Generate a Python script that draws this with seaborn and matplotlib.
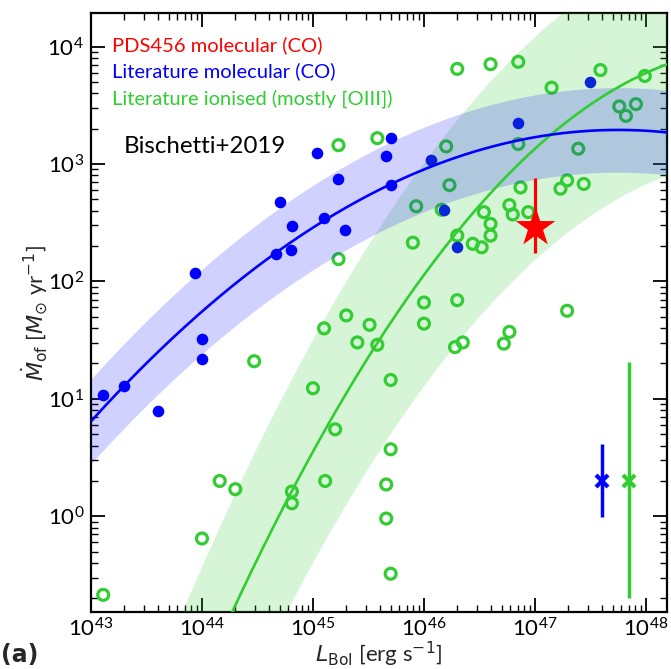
import numpy as np
import pandas as pd
import matplotlib
matplotlib.use("Agg")
import matplotlib.pyplot as plt
import seaborn as sns
from matplotlib.ticker import LogLocator, NullFormatter

# ---------------- data (log10 values) ----------------
blue_logL = [45.04, 45.23, 44.70, 44.81, 45.10, 45.29, 44.67, 44.80, 43.94,
             44.00, 44.00, 43.11, 43.30, 43.60, 45.70, 45.66, 46.06, 45.70,
             46.18, 46.30, 46.85, 47.50]
blue_logM = [3.09, 2.875, 2.675, 2.47, 2.54, 2.44, 2.23, 2.27, 2.07,
             1.51, 1.34, 1.03, 1.11, 0.90, 3.22, 3.07, 3.03, 2.82,
             2.61, 2.29, 3.35, 3.70]

green_logL = [45.23, 45.58, 45.23, 45.30, 45.10, 45.51, 45.40, 45.58, 44.47,
              45.00, 45.20, 44.16, 44.30, 44.81, 44.81, 45.11, 44.00, 43.11,
              46.30, 46.60, 46.85, 47.59, 47.15, 47.99, 47.76, 47.82, 47.91,
              46.20, 46.85, 47.39, 46.23, 46.87, 47.29, 47.23, 47.44, 45.93,
              46.16, 46.54, 46.77, 46.80, 46.94, 46.60, 46.60, 46.30, 45.90,
              46.44, 46.52, 46.00, 46.30, 46.00, 47.29, 46.28, 46.35, 46.72,
              46.77, 45.70, 45.70, 45.66, 45.66, 45.70]
green_logM = [3.16, 3.22, 2.19, 1.71, 1.60, 1.63, 1.48, 1.46, 1.32,
              1.09, 0.74, 0.30, 0.23, 0.21, 0.11, 0.30, -0.19, -0.67,
              3.81, 3.85, 3.87, 3.80, 3.65, 3.75, 3.49, 3.41, 3.51,
              3.15, 3.17, 3.13, 2.82, 2.80, 2.86, 2.79, 2.83, 2.64,
              2.61, 2.59, 2.65, 2.57, 2.59, 2.49, 2.39, 2.39, 2.33,
              2.32, 2.29, 1.82, 1.84, 1.64, 1.75, 1.44, 1.48, 1.47,
              1.57, 1.16, 0.57, 0.27, -0.02, -0.49]

# PDS456 point
pds_L = [1.0e47]
pds_M = [290.0]
pds_lo = [175.0]
pds_hi = [760.0]

# representative error bars
rep_L = [4.0e47, 7.0e47]
rep_M = [2.0, 2.0]
rep_lo = [0.99, 0.20]
rep_hi = [4.1, 20.5]

# fit curves: logM = peak - curv * (logL - Lpeak)^2, band half-width in dex
blue_fit = dict(peak=3.29, curv=0.11, Lpeak=47.75, width=0.36)
green_fit = dict(peak=3.99, curv=0.215, Lpeak=49.0, width=0.95)

# ---------------- style ----------------
sns.set_theme(style="ticks")
plt.rcParams["font.family"] = ["Lato", "DejaVu Sans"]
plt.rcParams["mathtext.fontset"] = "dejavusans"

BLUE = "#0000ff"
GREEN = "#32cd32"
RED = "#ff0000"

fig = plt.figure(figsize=(6.71, 6.69), dpi=100)
ax = fig.add_axes([91 / 671, 57 / 669, 576 / 671, 599 / 669])
ax.set_xscale("log")
ax.set_yscale("log")
ax.set_xlim(1e43, 10 ** 48.19)
ax.set_ylim(10 ** -0.816, 10 ** 4.286)

# scatter points
bdf = pd.DataFrame({"L": 10 ** np.array(blue_logL), "M": 10 ** np.array(blue_logM)})
gdf = pd.DataFrame({"L": 10 ** np.array(green_logL), "M": 10 ** np.array(green_logM)})

sns.scatterplot(data=gdf, x="L", y="M", ax=ax, marker="o", s=62,
                facecolor="none", edgecolor=GREEN, linewidth=2.3, zorder=2)
gcol = ax.collections[-1]
gcol.set_facecolor("none")
gcol.set_edgecolor(GREEN)
gcol.set_linewidth(2.3)

sns.scatterplot(data=bdf, x="L", y="M", ax=ax, marker="o", s=70,
                color=BLUE, edgecolor=BLUE, linewidth=0, zorder=2)

# fit curves and bands
logLgrid = np.linspace(43.0, 48.19, 300)
for fit, col, alpha in [(green_fit, GREEN, 0.2), (blue_fit, BLUE, 0.18)]:
    lm = fit["peak"] - fit["curv"] * (logLgrid - fit["Lpeak"]) ** 2
    ax.fill_between(10 ** logLgrid, 10 ** (lm - fit["width"]), 10 ** (lm + fit["width"]),
                    color=col, alpha=alpha, linewidth=0, zorder=3)
    sns.lineplot(x=10 ** logLgrid, y=10 ** lm, ax=ax, color=col, linewidth=1.9,
                 estimator=None, sort=False, zorder=4)

# PDS456 star with error bar
pm = np.array(pds_M)
ax.errorbar(pds_L, pds_M, yerr=[pm - np.array(pds_lo), np.array(pds_hi) - pm],
            fmt="none", ecolor=RED, elinewidth=2.3, capsize=0, zorder=5)
sns.scatterplot(x=pds_L, y=pds_M, ax=ax, marker="*", s=900, color=RED,
                edgecolor=RED, linewidth=0, zorder=6)

# representative error bars
for L, M, lo, hi, col in zip(rep_L, rep_M, rep_lo, rep_hi, [BLUE, GREEN]):
    ax.errorbar([L], [M], yerr=[[M - lo], [hi - M]], fmt="x", color=col,
                ecolor=col, elinewidth=2.5, capsize=0, markersize=8,
                markeredgewidth=3, zorder=5)

# texts
ax.text(0.036, 0.947, "PDS456 molecular (CO)", color=RED, fontsize=14.5,
        transform=ax.transAxes, va="center", ha="left")
ax.text(0.036, 0.903, "Literature molecular (CO)", color=BLUE, fontsize=14.5,
        transform=ax.transAxes, va="center", ha="left")
ax.text(0.036, 0.857, "Literature ionised (mostly [OIII])", color=GREEN, fontsize=14.5,
        transform=ax.transAxes, va="center", ha="left")
ax.text(0.057, 0.777, "Bischetti+2019", color="black", fontsize=17.3,
        transform=ax.transAxes, va="center", ha="left")
fig.text(0.002, 0.021, "(a)", fontsize=17, fontweight="bold", ha="left", va="center",
         family=["DejaVu Sans"])

ax.set_xlabel(r"$L_{\rm Bol}$ [erg s$^{-1}$]", fontsize=16)
ax.set_ylabel(r"$\dot{M}_{\rm of}$ [$M_{\odot}$ yr$^{-1}$]", fontsize=16)
ax.xaxis.label.set_va("center")
ax.xaxis.set_label_coords(0.5, -0.071)
ax.yaxis.label.set_va("center")
ax.yaxis.set_label_coords(-0.097, 0.5)

# ticks
ax.xaxis.set_major_locator(LogLocator(base=10, numticks=10))
ax.xaxis.set_minor_locator(LogLocator(base=10, subs=np.arange(2, 10), numticks=20))
ax.yaxis.set_major_locator(LogLocator(base=10, numticks=10))
ax.yaxis.set_minor_locator(LogLocator(base=10, subs=np.arange(2, 10), numticks=20))
ax.xaxis.set_minor_formatter(NullFormatter())
ax.yaxis.set_minor_formatter(NullFormatter())
ax.tick_params(which="both", direction="in", top=True, right=True, colors="black")
ax.tick_params(which="major", length=10, width=1.3, labelsize=16)
ax.tick_params(which="minor", length=5, width=1.0)
ax.tick_params(axis="x", which="major", pad=4)
ax.tick_params(axis="y", which="major", pad=5)
for sp in ax.spines.values():
    sp.set_color("black")
    sp.set_linewidth(1.6)
    sp.set_visible(True)
ax.set_facecolor("white")
ax.grid(False)

fig.savefig("out.png", dpi=100, facecolor="white")
